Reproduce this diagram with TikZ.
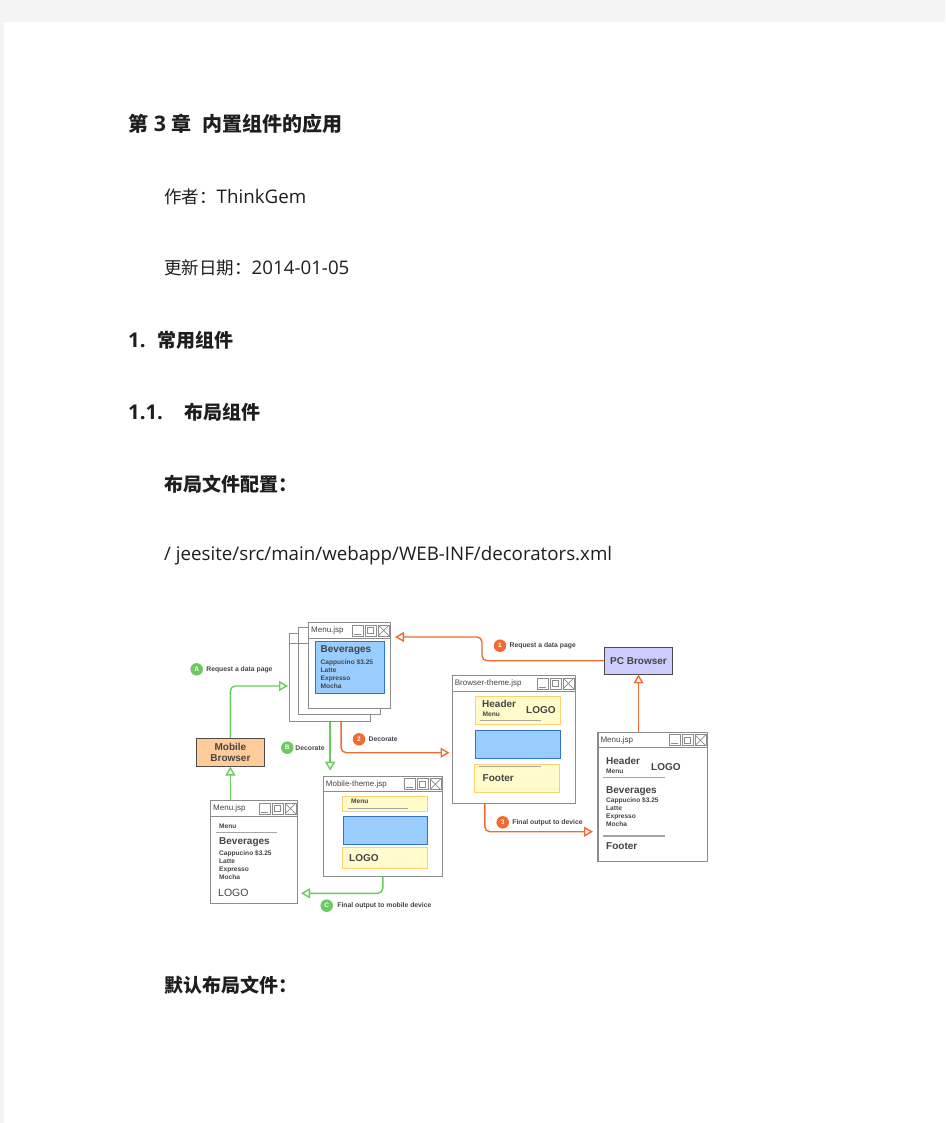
\documentclass[tikz,border=0pt]{standalone}
\usepackage{fontspec}
\setmainfont{Open Sans}[Scale=1.07]
\newfontfamily\cjk{Noto Sans CJK SC}
\newfontfamily\diag{Liberation Sans}
\usetikzlibrary{arrows.meta,positioning}

\definecolor{pagegray}{HTML}{F4F4F4}
\definecolor{ink}{HTML}{1E1E1E}
\definecolor{frame}{HTML}{8C8C8C}
\definecolor{txt}{HTML}{444444}
\definecolor{orng}{HTML}{EF6B32}
\definecolor{grn}{HTML}{6BCB5E}
\definecolor{blfill}{HTML}{99CCFF}
\definecolor{bldraw}{HTML}{2F73D6}
\definecolor{ylfill}{HTML}{FFFBCB}
\definecolor{yldraw}{HTML}{FFD070}
\definecolor{peach}{HTML}{FFCC99}
\definecolor{lav}{HTML}{CCCCFF}

% title bar with the three buttons of a window node
\newcommand{\winbar}[2]{%
  \draw[frame, line width=0.9pt] ([yshift=-16pt]#1.north west) -- ([yshift=-16pt]#1.north east);
  \node[wtitle] at ([xshift=3pt,yshift=-8.5pt]#1.north west) {#2};
  \draw[btn] ([xshift=-39pt,yshift=-3pt]#1.north east) rectangle ([xshift=-28pt,yshift=-14pt]#1.north east);
  \draw[btn] ([xshift=-37pt,yshift=-12pt]#1.north east) -- ([xshift=-30pt,yshift=-12pt]#1.north east);
  \draw[btn] ([xshift=-26pt,yshift=-3pt]#1.north east) rectangle ([xshift=-15pt,yshift=-14pt]#1.north east);
  \draw[btn] ([xshift=-23.5pt,yshift=-5.5pt]#1.north east) rectangle ([xshift=-17.5pt,yshift=-11.5pt]#1.north east);
  \draw[btn] ([xshift=-13pt,yshift=-3pt]#1.north east) rectangle ([xshift=-2pt,yshift=-14pt]#1.north east);
  \draw[btn] ([xshift=-13pt,yshift=-3pt]#1.north east) -- ([xshift=-2pt,yshift=-14pt]#1.north east)
             ([xshift=-2pt,yshift=-3pt]#1.north east) -- ([xshift=-13pt,yshift=-14pt]#1.north east);
}

\begin{document}
\begin{tikzpicture}[x=1pt,y=-1pt,
  ptxt/.style={anchor=base west,inner sep=0pt,text=ink,font=\fontsize{17.5}{20}\selectfont},
  phead/.style={ptxt,font=\bfseries\fontsize{19}{22}\selectfont},
  win/.style={draw=frame,line width=1.2pt,fill=white,anchor=north west,inner sep=0pt},
  wtitle/.style={anchor=west,inner sep=0pt,text=txt,font=\diag\fontsize{8}{9}\selectfont},
  btn/.style={draw=frame,line width=0.7pt},
  wtxt/.style={anchor=west,inner sep=0pt,text=txt,font=\diag\bfseries\fontsize{10}{12}\selectfont},
  wsmall/.style={wtxt,font=\diag\bfseries\fontsize{6.6}{8}\selectfont},
  items/.style={anchor=north west,inner sep=0pt,align=left,text=txt,font=\diag\bfseries\fontsize{6.6}{8}\selectfont},
  blbox/.style={draw=bldraw,fill=blfill,line width=0.9pt},
  ylbox/.style={draw=yldraw,fill=ylfill,line width=0.9pt},
  rule/.style={draw=gray!70,line width=1.1pt},
  browser/.style={draw=gray!60!black,line width=0.8pt,text=txt,align=center,
    font=\diag\bfseries\fontsize{10}{11}\selectfont},
  badge/.style={circle,fill=#1,text=white,inner sep=0pt,minimum size=12.5pt,
    font=\diag\bfseries\fontsize{6.5}{7}\selectfont},
  lbl/.style={inner sep=0pt,text=txt,font=\diag\bfseries\fontsize{6.8}{8}\selectfont},
  oarrow/.style={draw=orng,line width=1.4pt,rounded corners=5pt,
    -{Triangle[open,length=9pt,width=10pt]}},
  garrow/.style={draw=grn,line width=1.4pt,rounded corners=5pt,
    -{Triangle[open,length=9pt,width=10pt]}}]

\useasboundingbox (0,0) rectangle (945,1123);
\fill[pagegray] (0,0) rectangle (945,1123);
\fill[white] (4,22) rectangle (945,1123);

% page text
\node[phead,font=\bfseries\fontsize{20}{23}\selectfont] (title) at (128,132) {{\cjk 第} 3 {\cjk 章}\ \ {\cjk 内置组件的应用}};
\node[ptxt] (author) at (164,204) {{\cjk 作者：}ThinkGem};
\node[ptxt] (date) at (164,274) {{\cjk 更新日期：}2014-01-05};
\node[phead] (sec1) at (128,347) {1.};
\node[phead] (sec1t) at (157,347) {\cjk 常用组件};
\node[phead] (sec11) at (128,419) {1.1.};
\node[phead] (sec11t) at (184,419) {\cjk 布局组件};
\node[phead] (cfg) at (164,491) {\cjk 布局文件配置：};
\node[ptxt] (path) at (164,560) {/ jeesite/src/main/webapp/WEB-INF/decorators.xml};
\node[phead] (deflt) at (164,992) {\cjk 默认布局文件：};

% stacked Menu.jsp windows
\node[win,minimum width=81pt,minimum height=88pt] (stk3) at (289,633) {};
\draw[frame,line width=0.9pt] ([yshift=-10pt]stk3.north west) -- ([yshift=-10pt,xshift=9pt]stk3.north west);
\node[win,minimum width=82pt,minimum height=87pt] (stk2) at (298,627) {};
\draw[frame,line width=0.9pt] ([yshift=-16pt]stk2.north west) -- ([yshift=-16pt,xshift=10pt]stk2.north west);
\node[win,minimum width=82pt,minimum height=86pt] (menuA) at (308,622) {};
\winbar{menuA}{Menu.jsp}
\draw[blbox] (315,641.7) rectangle (384.3,693.3);
\node[wtxt] at (320.5,650) {Beverages};
\node[items] at (320.5,659) {Cappucino \$3.25\\Latte\\Expresso\\Mocha};

% Browser-theme.jsp
\node[win,minimum width=123pt,minimum height=128pt] (bth) at (451.7,675) {};
\winbar{bth}{Browser-theme.jsp}
\draw[ylbox] (475,696) rectangle (560,724.3);
\node[wtxt] at (482,703.5) {Header};
\node[wsmall] at (482.5,714.5) {Menu};
\draw[rule] (480,720.7) -- (540.7,720.7);
\node[wtxt] at (526,710) {LOGO};
\draw[blbox] (475,730) rectangle (560,758.3);
\draw[ylbox] (474.3,764.3) rectangle (559,792.7);
\draw[rule] (479.3,766.7) -- (540.7,766.7);
\node[wtxt] at (482.5,777.7) {Footer};

% Mobile-theme.jsp
\node[win,minimum width=119pt,minimum height=100pt] (mth) at (322.7,775.7) {};
\winbar{mth}{Mobile-theme.jsp}
\draw[ylbox] (342.3,796) rectangle (427.3,811);
\node[wsmall] at (351,801.5) {Menu};
\draw[rule] (347.7,808.3) -- (408.3,808.3);
\draw[blbox] (343.3,816) rectangle (427.7,844.3);
\draw[ylbox] (342.3,847.7) rectangle (427.3,868.3);
\node[wtxt] at (349,858.3) {LOGO};

% Menu.jsp for the mobile device
\node[win,minimum width=86.7pt,minimum height=103pt] (mleft) at (210,800) {};
\winbar{mleft}{Menu.jsp}
\node[wsmall] at (219,826.7) {Menu};
\draw[rule] (216,832.7) -- (277.3,832.7);
\node[wtxt] at (219,841.7) {Beverages};
\node[items] at (219,850.5) {Cappucino \$3.25\\Latte\\Expresso\\Mocha};
\node[wtxt,font=\diag\fontsize{10.5}{12}\selectfont] at (218,893.3) {LOGO};

% Menu.jsp for the PC
\node[win,minimum width=109.4pt,minimum height=129pt] (mright) at (597.3,731.7) {};
\winbar{mright}{Menu.jsp}
\node[wtxt] at (606,760.7) {Header};
\node[wsmall] at (606,771.7) {Menu};
\node[wtxt] at (651,767.3) {LOGO};
\draw[rule] (603.3,777.3) -- (665,777.3);
\node[wtxt] at (606,790.7) {Beverages};
\node[items] at (606,797.3) {Cappucino \$3.25\\Latte\\Expresso\\Mocha};
\draw[rule] (603.3,836) -- (665,836);
\node[wtxt] at (606,846) {Footer};

% browsers
\node[browser,fill=peach,minimum width=67.5pt,minimum height=28pt] (mob) at (230.4,752.2) {Mobile\\Browser};
\node[browser,fill=lav,minimum width=68.4pt,minimum height=26.7pt] (pc) at (638.5,660.7) {PC Browser};

% connector ends
\coordinate (inA) at (288,686);
\coordinate (in1) at (395,637);
\coordinate (in2) at (449.5,752.7);
\coordinate (in3) at (593,831.7);
\coordinate (inC) at (301,893.3);

% connectors
\draw[oarrow] (pc.west) -| ([xshift=87pt]in1) -- (in1);
\draw[oarrow] (pc.south |- mright.north) -- (pc.south);
\draw[oarrow] ([xshift=11pt]stk3.south) |- (in2);
\draw[oarrow] ([xshift=-29pt]bth.south) |- (in3);
\draw[garrow] (mob.north) |- (inA);
\draw[garrow,shorten >=5pt] (stk3.south) -- (stk3.south |- mth.north);
\draw[garrow] (mth.south) |- (inC);
\draw[garrow] (mob.south |- mleft.north) -- (mob.south);

% step badges and labels
\node[badge=grn] (bA) at (196.7,669.3) {A};
\node[lbl,right=3pt of bA] {Request a data page};
\node[badge=grn] (bB) at (287.3,747.7) {B};
\node[lbl,right=1.5pt of bB] {Decorate};
\node[badge=orng] (b2) at (359,739.3) {2};
\node[lbl,right=3pt of b2] {Decorate};
\node[badge=orng] (b1) at (500,645.7) {1};
\node[lbl,right=3pt of b1] {Request a data page};
\node[badge=orng] (b3) at (502.7,822.3) {3};
\node[lbl,right=3pt of b3] {Final output to device};
\node[badge=grn] (bC) at (326.7,905.7) {C};
\node[lbl,right=4pt of bC] {Final output to mobile device};
\end{tikzpicture}
\end{document}
